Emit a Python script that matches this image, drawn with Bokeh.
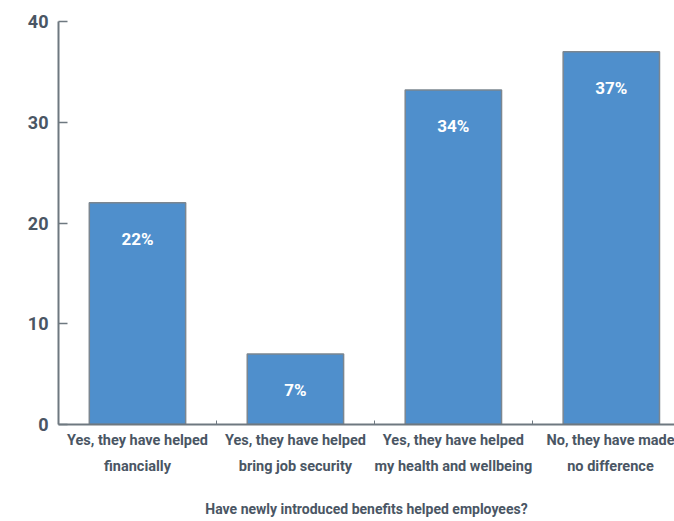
from bokeh.plotting import figure
from bokeh.models import FixedTicker, ColumnDataSource, Range1d
from bokeh.core.properties import value
from bokeh.embed import file_html
from bokeh.resources import INLINE

categories = ["Yes, they have helped\nfinancially",
              "Yes, they have helped\nbring job security",
              "Yes, they have helped\nmy health and wellbeing",
              "No, they have made\nno difference"]
values = [22, 7, 33.2, 37]
labels = ["22%", "7%", "34%", "37%"]
y_ticks = [0, 10, 20, 30, 40]
x_title = "Have newly introduced benefits helped employees?"

FONT = "Roboto"
TXT = "#4a5664"
AX = "#6e7880"

xs = [i + 0.5 for i in range(len(categories))]
src = ColumnDataSource(dict(x=xs, top=values, lab=labels))

p = figure(width=674, height=521, output_backend="svg", toolbar_location=None,
           x_range=Range1d(0, 3.9), y_range=Range1d(0, 40),
           min_border_left=58, min_border_right=0, min_border_top=21, min_border_bottom=97)
p.outline_line_color = None
p.xgrid.grid_line_color = None
p.ygrid.grid_line_color = None

p.vbar(x="x", top="top", width=0.61, source=src, fill_color="#4f8fcc",
       line_color="#7b8690", line_width=1.5)
p.text(x="x", y="top", text="lab", source=src, text_align="center", text_baseline="middle",
       y_offset=36, text_color="white", text_font=value(FONT), text_font_style="bold",
       text_font_size="17px")

# x axis
xa = p.xaxis[0]
xa.ticker = FixedTicker(ticks=xs, minor_ticks=[1, 2, 3])
xa.major_label_overrides = {x: c for x, c in zip(xs, categories)}
xa.major_tick_in = 0
xa.major_tick_out = 0
xa.minor_tick_in = 4
xa.minor_tick_out = 0
xa.minor_tick_line_color = AX
xa.axis_line_color = AX
xa.axis_line_width = 2
xa.major_label_text_font = FONT
xa.major_label_text_font_style = "bold"
xa.major_label_text_font_size = "14.5px"
xa.major_label_text_line_height = 1.55
xa.major_label_text_color = TXT
xa.major_label_standoff = 7
xa.axis_label = x_title
xa.axis_label_text_font = FONT
xa.axis_label_text_font_style = "bold"
xa.axis_label_text_font_size = "14px"
xa.axis_label_text_color = TXT
xa.axis_label_standoff = 23

# y axis
ya = p.yaxis[0]
ya.ticker = FixedTicker(ticks=y_ticks, minor_ticks=[])
ya.major_tick_in = 9
ya.major_tick_out = 0
ya.major_tick_line_color = AX
ya.major_tick_line_width = 1.5
ya.axis_line_color = AX
ya.axis_line_width = 2
ya.major_label_text_font = FONT
ya.major_label_text_font_style = "bold"
ya.major_label_text_font_size = "18px"
ya.major_label_text_color = TXT
ya.major_label_standoff = 10

open("out.html", "w").write(file_html(p, INLINE))
